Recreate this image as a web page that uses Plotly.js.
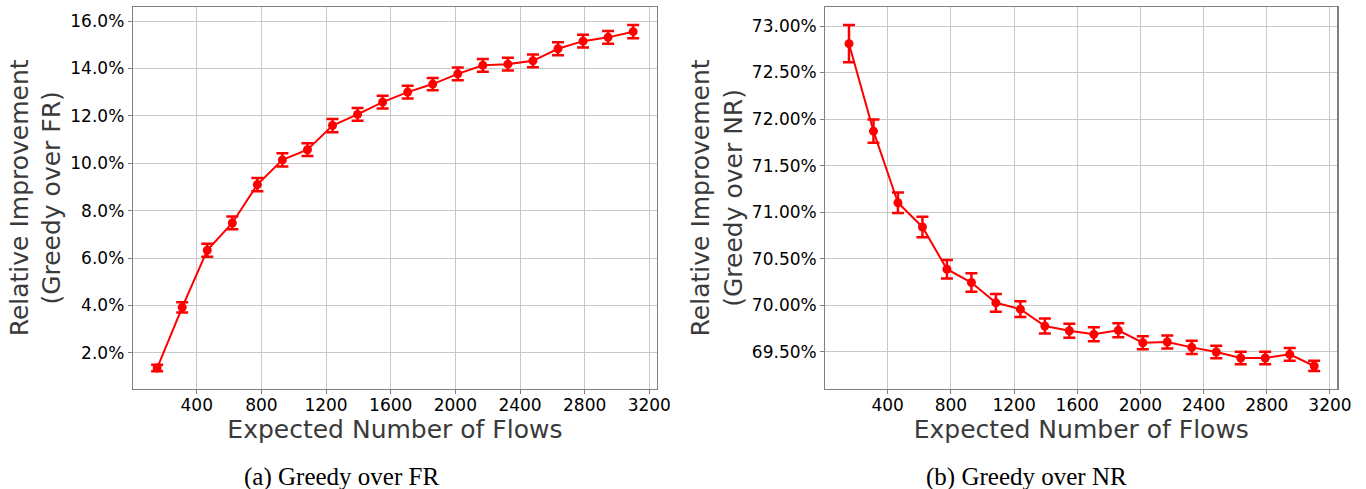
<!DOCTYPE html>
<html>
<head>
<meta charset="utf-8">
<script src="https://cdn.plot.ly/plotly-3.0.1.min.js"></script>
<style>
  html, body { margin: 0; padding: 0; background: #ffffff; }
  #chart { width: 1366px; height: 489px; }
</style>
</head>
<body>
<div id="chart"></div>
<script>
// Expected number of flows (shared x values)
const flows = [155, 310, 465, 620, 775, 930, 1085, 1240, 1395, 1550,
               1705, 1860, 2015, 2170, 2325, 2480, 2635, 2790, 2945, 3100];

// (a) Greedy over FR — relative improvement (%) and error (%)
const improvFR = [1.36, 3.92, 6.33, 7.48, 9.10, 10.14, 10.57, 11.59, 12.06, 12.58,
                  13.00, 13.34, 13.77, 14.13, 14.18, 14.32, 14.83, 15.15, 15.31, 15.55];
const errFR    = [0.14, 0.22, 0.27, 0.27, 0.28, 0.28, 0.27, 0.28, 0.27, 0.27,
                  0.27, 0.26, 0.27, 0.27, 0.27, 0.27, 0.27, 0.27, 0.27, 0.28];

// (b) Greedy over NR — relative improvement (%) and error (%)
const improvNR = [72.81, 71.87, 71.10, 70.84, 70.386, 70.243, 70.025, 69.957, 69.775, 69.725,
                  69.686, 69.729, 69.596, 69.604, 69.546, 69.496, 69.432, 69.432, 69.471, 69.346];
const errNR    = [0.20, 0.125, 0.11, 0.11, 0.10, 0.10, 0.095, 0.085, 0.08, 0.075,
                  0.075, 0.075, 0.07, 0.07, 0.07, 0.068, 0.068, 0.068, 0.068, 0.055];

// Tick values / labels
const xTicks = [400, 800, 1200, 1600, 2000, 2400, 2800, 3200];
const yTicksFR = [2, 4, 6, 8, 10, 12, 14, 16];
const yTicksNR = [69.5, 70.0, 70.5, 71.0, 71.5, 72.0, 72.5, 73.0];

// Text
const xTitle = 'Expected Number of Flows';
const yTitleFR = 'Relative Improvement<br>(Greedy over FR)';
const yTitleNR = 'Relative Improvement<br>(Greedy over NR)';
const captionA = '(a) Greedy over FR';
const captionB = '(b) Greedy over NR';

const RED = '#ff0000';
const W = 1366, H = 489;

function series(y, err, xa, ya) {
  return {
    x: flows, y: y, xaxis: xa, yaxis: ya,
    type: 'scatter', mode: 'lines+markers',
    line: { color: RED, width: 2 },
    marker: { color: RED, size: 9 },
    error_y: { type: 'data', array: err, visible: true, color: RED, thickness: 2.5, width: 6 },
    showlegend: false, hoverinfo: 'x+y'
  };
}

const tickFont = { family: 'DejaVu Sans', size: 17, color: '#000000' };
const titleFont = { family: 'DejaVu Sans', size: 25, color: '#3a3a3a' };

function xAxis(domain, anchor) {
  return {
    domain: domain, anchor: anchor,
    range: [5, 3247], tickmode: 'array', tickvals: xTicks, ticktext: xTicks.map(String),
    showgrid: true, gridcolor: '#c8c8c8', gridwidth: 1,
    showline: true, linecolor: '#808080', linewidth: 1.2, mirror: true,
    ticks: 'outside', ticklen: 4, tickcolor: '#808080', tickwidth: 1,
    tickfont: tickFont, zeroline: false, ticklabelstandoff: -3,
    title: { text: xTitle, font: titleFont, standoff: 4 },
    automargin: false
  };
}

function yAxis(domain, anchor, range, ticks, dec, title) {
  return {
    domain: domain, anchor: anchor, range: range,
    tickmode: 'array', tickvals: ticks, ticktext: ticks.map(v => v.toFixed(dec) + '%'),
    showgrid: true, gridcolor: '#c8c8c8', gridwidth: 1,
    showline: true, linecolor: '#808080', linewidth: 1.2, mirror: true,
    ticks: 'outside', ticklen: 4, tickcolor: '#808080', tickwidth: 1,
    tickfont: tickFont, zeroline: false,
    title: { text: title, font: titleFont, standoff: 2 },
    automargin: false
  };
}

const yDom = [1 - 388.5 / H, 1 - 7.3 / H];

const data = [
  series(improvFR, errFR, 'x', 'y'),
  series(improvNR, errNR, 'x2', 'y2')
];

const layout = {
  width: W, height: H,
  margin: { l: 0, r: 0, t: 0, b: 0 },
  paper_bgcolor: '#ffffff', plot_bgcolor: '#ffffff',
  xaxis: xAxis([132.9 / W, 656.9 / W], 'y'),
  yaxis: yAxis(yDom, 'x', [0.497, 16.578], yTicksFR, 1, yTitleFR),
  xaxis2: xAxis([825.3 / W, 1337.4 / W], 'y2'),
  yaxis2: yAxis(yDom, 'x2', [69.104, 73.201], yTicksNR, 2, yTitleNR),
  annotations: [
    { text: captionA, xref: 'paper', yref: 'paper', x: 341 / W, y: 1 - 477 / H,
      xanchor: 'center', yanchor: 'middle', showarrow: false,
      font: { family: 'Liberation Serif', size: 25, color: '#000000' } },
    { text: captionB, xref: 'paper', yref: 'paper', x: 1026 / W, y: 1 - 477 / H,
      xanchor: 'center', yanchor: 'middle', showarrow: false,
      font: { family: 'Liberation Serif', size: 25, color: '#000000' } }
  ]
};

Plotly.newPlot('chart', data, layout, { displayModeBar: false, staticPlot: true });
</script>
</body>
</html>
